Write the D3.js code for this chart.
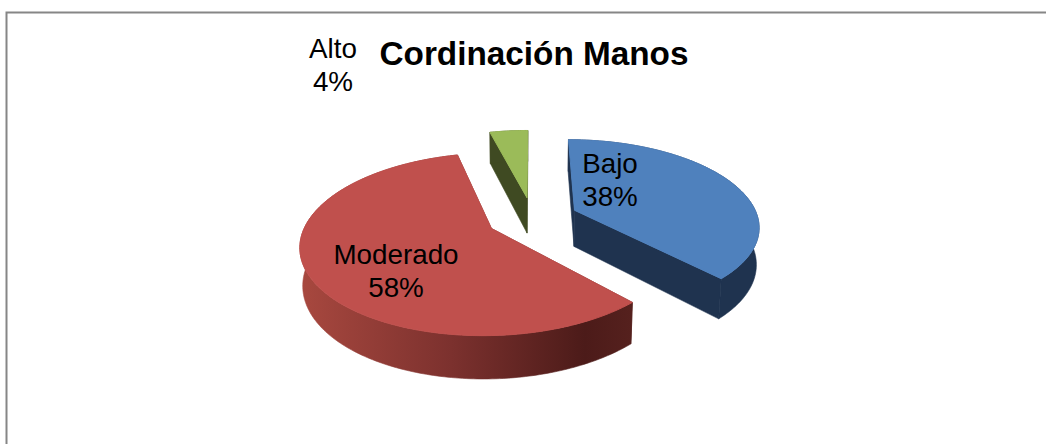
<!DOCTYPE html>
<html>
<head>
<meta charset="utf-8">
<script src="https://cdnjs.cloudflare.com/ajax/libs/d3/7.8.5/d3.min.js"></script>
<style>
html, body { margin: 0; padding: 0; background: #fff; overflow: hidden; }
text { font-family: "Liberation Sans", Arial, sans-serif; fill: #000; }
</style>
</head>
<body>
<svg id="chart" width="1046" height="444"></svg>
<script>
var chartTitle = "Cordinación Manos";
var categories = ["Bajo", "Moderado", "Alto"];
var percents = [38, 58, 4];
var topColors = ["#4f81bd", "#c0504d", "#9bbb59"];
var wallColors = ["#1f334f", "#7a2f2c", "#3f4a22"];

var svg = d3.select("#chart");

// frame, only top and left edges survive in the screenshot
svg.append("path")
    .attr("d", "M6.5,444V12.5H1046")
    .attr("fill", "none")
    .attr("stroke", "#868686")
    .attr("stroke-width", 2);

// Pie geometry lives on a unit disc, then gets pushed through a small perspective
var cx = 532.5, cy = 218;
var radius = 183.5, squash = 85, depth = 37, tilt = 0.17, zoomOut = 0.012;
var explode = 0.25;

function project(u, v, z) {
    var w = 1 - tilt * v + zoomOut * z;
    return [cx + radius * u / w, cy + (squash * v + depth * z) / w];
}

var pie = d3.pie().sort(null).value(function(d) { return d; });
var slices = pie(percents);
var line = d3.line();

function offset(s) {
    var mid = (s.startAngle + s.endAngle) / 2;
    return [explode * Math.sin(mid), -explode * Math.cos(mid)];
}

function rim(s, z, from, to) {
    var o = offset(s);
    var n = Math.max(2, Math.ceil((to - from) * 60));
    return d3.range(n + 1).map(function(i) {
        var a = from + (to - from) * i / n;
        return project(o[0] + Math.sin(a), o[1] - Math.cos(a), z);
    });
}

function apex(s, z) {
    var o = offset(s);
    return project(o[0], o[1], z);
}

// red side gets the horizontal shading
var defs = svg.append("defs");
var grad = defs.append("linearGradient")
    .attr("id", "redWall")
    .attr("gradientUnits", "userSpaceOnUse")
    .attr("x1", 300).attr("x2", 635).attr("y1", 0).attr("y2", 0);
[[0, "#a8483f"], [0.45, "#7c312e"], [0.85, "#4c1b19"], [1, "#56211e"]].forEach(function(d) {
    grad.append("stop").attr("offset", d[0]).attr("stop-color", d[1]);
});

var g = svg.append("g");

slices.forEach(function(s, i) {
    var fill = i === 1 ? "url(#redWall)" : wallColors[i];

    // radial walls
    [s.startAngle, s.endAngle].forEach(function(a) {
        var edge = rim(s, 0, a, a)[0];
        var edgeLow = rim(s, 1, a, a)[0];
        g.append("path")
            .attr("d", line([apex(s, 0), edge, edgeLow, apex(s, 1)]) + "Z")
            .attr("fill", fill)
            .attr("stroke", fill)
            .attr("stroke-width", 0.6);
    });

    // outer wall
    var top = rim(s, 0, s.startAngle, s.endAngle);
    var low = rim(s, 1, s.startAngle, s.endAngle).reverse();
    g.append("path")
        .attr("d", line(top.concat(low)) + "Z")
        .attr("fill", fill)
        .attr("stroke", fill)
        .attr("stroke-width", 0.6);

    // top face, stroked so the wall strokes don't fringe it
    g.append("path")
        .attr("d", line([apex(s, 0)].concat(top)) + "Z")
        .attr("fill", topColors[i])
        .attr("stroke", topColors[i])
        .attr("stroke-width", 1);
});

svg.append("text")
    .attr("x", 534).attr("y", 65)
    .attr("text-anchor", "middle")
    .attr("font-size", 33.3)
    .attr("font-weight", "bold")
    .text(chartTitle);

var labelPos = [[610, 173], [396, 264], [333, 58]];
var labelSize = [27.8, 27.8, 27.8];
slices.forEach(function(s, i) {
    var t = svg.append("text")
        .attr("text-anchor", "middle")
        .attr("font-size", labelSize[i]);
    t.append("tspan").attr("x", labelPos[i][0]).attr("y", labelPos[i][1]).text(categories[i]);
    t.append("tspan").attr("x", labelPos[i][0]).attr("y", labelPos[i][1] + 33).text(percents[i] + "%");
});
</script>
</body>
</html>
